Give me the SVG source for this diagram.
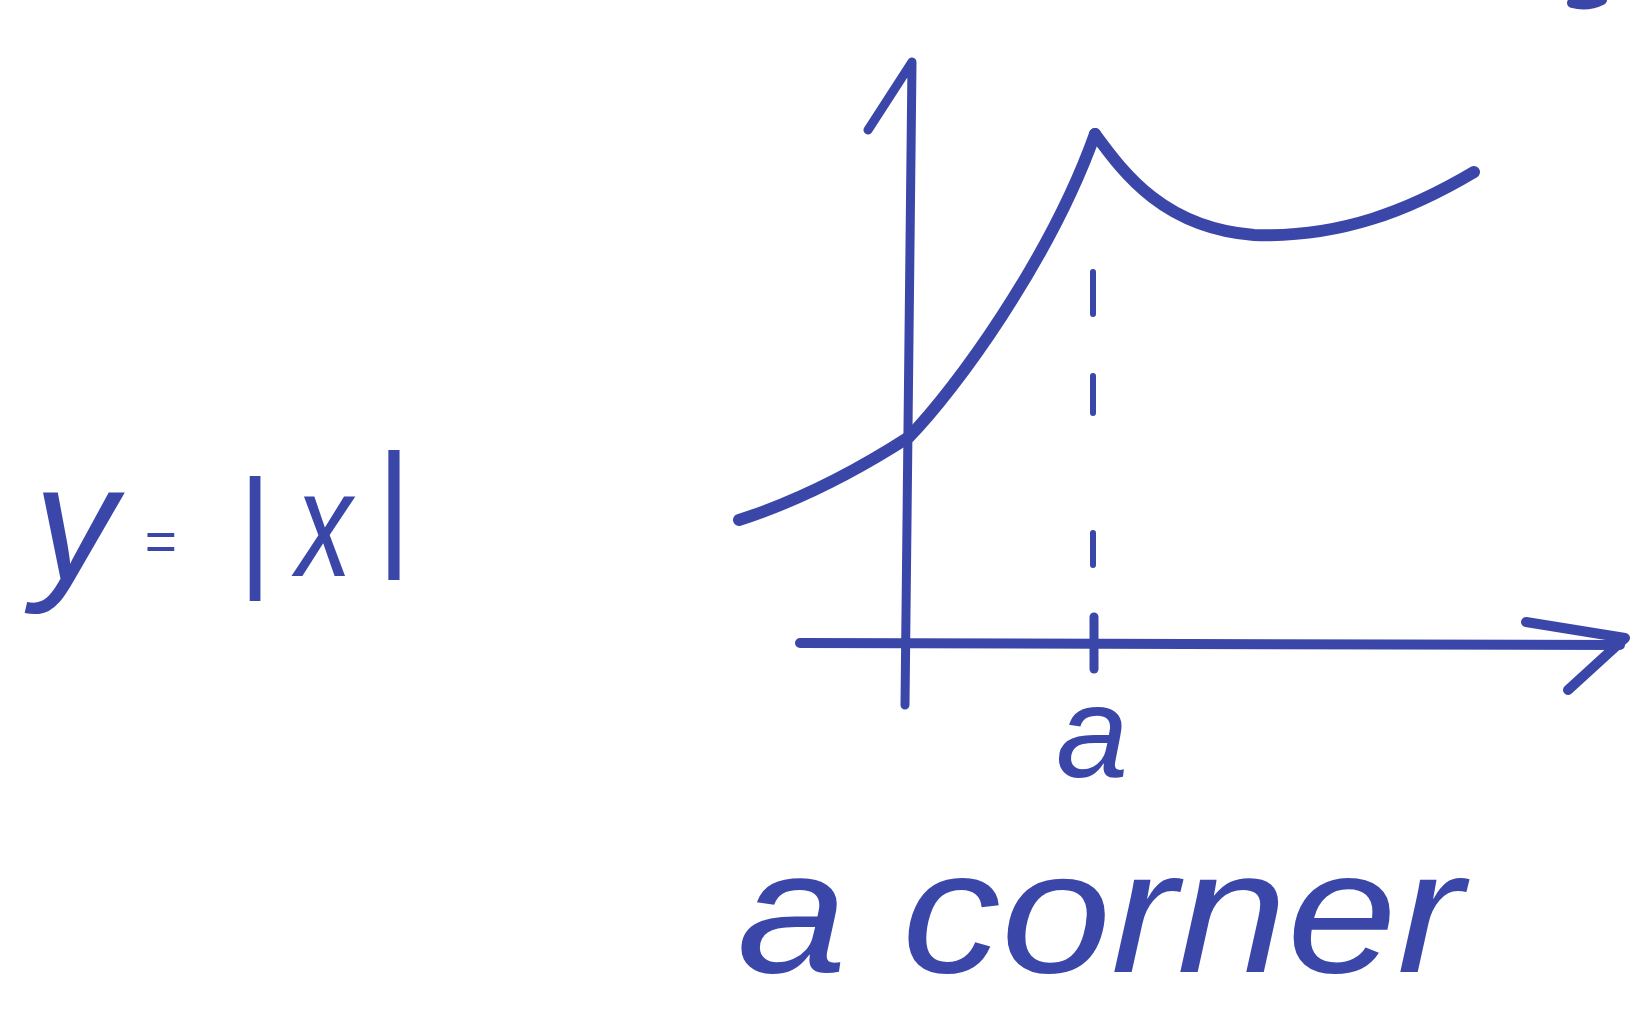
<svg xmlns="http://www.w3.org/2000/svg" width="1639" height="1012" viewBox="0 0 1639 1012">
<style>
.ink{fill:none;stroke:#3a47a8;stroke-linecap:round;stroke-linejoin:round}
.txt{fill:#3a47a8;font-family:"Liberation Sans","DejaVu Sans",sans-serif;font-style:italic}
</style>
<rect width="1639" height="1012" fill="#ffffff"/>
<g id="corner-mark"><path class="ink" d="M1572,3 Q1588,7 1602,0" stroke-width="10"/></g>
<g id="label-abs">
<text class="txt" x="34" y="580" font-size="165">y</text>
<text class="txt" x="144" y="560" font-size="55">=</text>
<text class="txt" x="236" y="572" font-size="132">|</text>
<text class="txt" x="296" y="576" font-size="150" textLength="56" lengthAdjust="spacingAndGlyphs">x</text>
<text class="txt" x="374" y="550" font-size="138">|</text>
</g>
<g id="connectors">
<path id="y-axis" class="ink" stroke-width="9" d="M868,130 L912,62 L905,705"/>
<path id="x-axis" class="ink" stroke-width="10" d="M800,643 L1620,645"/>
<path id="x-arrow" class="ink" stroke-width="10" d="M1526,622 L1625,638 L1568,690"/>
<path id="tick" class="ink" stroke-width="9" d="M1094,617 L1094,669"/>
<path id="dash" class="ink" stroke-width="6" d="M1093,272 L1093,314 M1093,376 L1093,413 M1093,533 L1093,565"/>
<path id="curve-left" class="ink" stroke-width="12" d="M739,520 C795,502 850,475 909,437 C955,390 1050,260 1095,134"/>
<path id="curve-right" class="ink" stroke-width="12" d="M1095,134 C1125,175 1165,228 1254,235 C1340,238 1410,210 1474,172"/>
</g>
<g id="label-a"><text class="txt" x="1056" y="777" font-size="130">a</text></g>
<g id="label-corner"><text class="txt" x="737" y="972" font-size="175" textLength="726" lengthAdjust="spacingAndGlyphs">a corner</text></g>
</svg>
